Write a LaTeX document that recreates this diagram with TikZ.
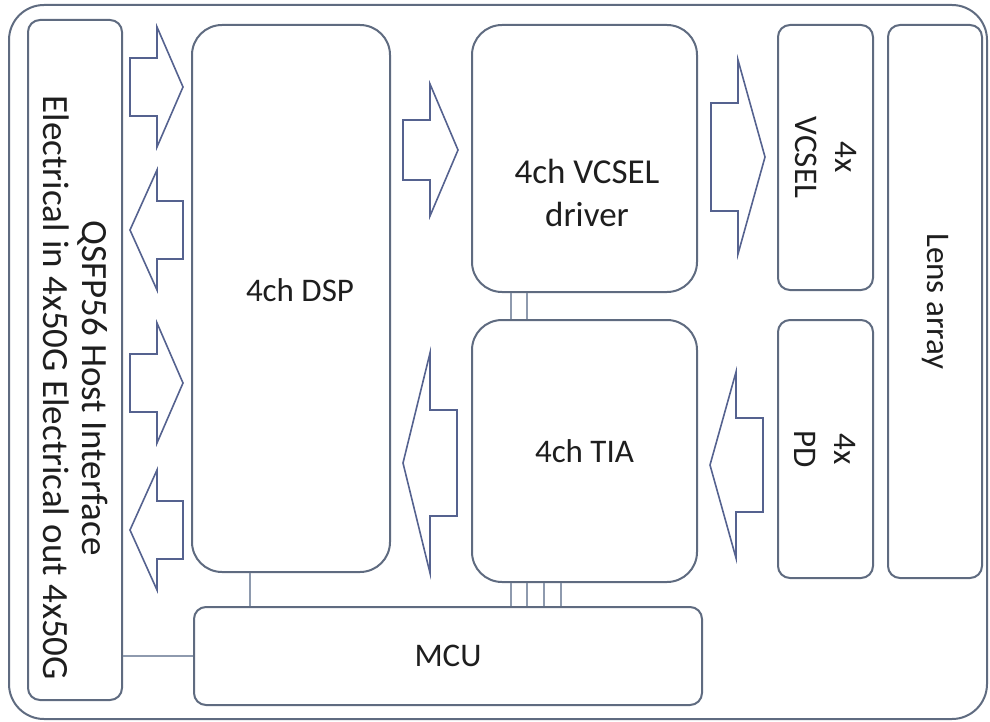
\documentclass[tikz,border=0pt]{standalone}
\usepackage{fontspec}
\setmainfont{Carlito}
\usepackage{xcolor}
\usepackage{tikz}
\definecolor{slateline}{HTML}{5F6B80}
\definecolor{arrowblue}{HTML}{55628F}
\definecolor{wiregray}{HTML}{8E9AAE}
\definecolor{inktext}{HTML}{1E1E1E}

\begin{document}
\begin{tikzpicture}[x=1pt, y=-1pt,
    box/.style={draw=slateline, line width=2pt, rounded corners=12pt, inner sep=0pt},
    bigbox/.style={box, rounded corners=30pt},
    wire/.style={wiregray, line width=1.2pt},
    fatarrow/.style={draw=arrowblue, line width=1.6pt, line join=miter},
    txt/.style={text=inktext, font=\fontsize{33}{40}\selectfont, align=center}]
      \useasboundingbox (0,0) rectangle (990,722);
      \draw[slateline, line width=2pt, rounded corners=35pt] (9,5) rectangle (987,719);
      % blocks
      \node[box, minimum width=94pt, minimum height=680pt] (host) at (75,360) {};
      \node[bigbox, minimum width=198pt, minimum height=547pt] (dsp) at (291,298.5) {};
      \node[bigbox, minimum width=225pt, minimum height=267pt] (drv) at (584.5,158.5) {};
      \node[bigbox, minimum width=225pt, minimum height=262pt] (tia) at (584.5,451) {};
      \node[box, minimum width=508pt, minimum height=98pt] (mcu) at (448,656) {};
      \node[box, minimum width=95pt, minimum height=265pt] (vcsel) at (825.5,157.5) {};
      \node[box, minimum width=95pt, minimum height=258pt] (pd) at (825.5,449) {};
      \node[box, minimum width=94pt, minimum height=553pt] (lens) at (935,301.5) {};
      % labels
      \node[txt, rotate=-90, font=\fontsize{37}{39}\selectfont] (hosttxt) at (76,388) {QSFP56 Host Interface\\Electrical in 4x50G Electrical out 4x50G};
      \node[txt] (dsptxt) at (300,290) {4ch DSP};
      \node[txt, font=\fontsize{35}{43}\selectfont] (drvtxt) at (587,193) {4ch VCSEL\\driver};
      \node[txt] (tiatxt) at (tia.center) {4ch TIA};
      \node[txt] (mcutxt) at (mcu.center) {MCU};
      \node[txt, rotate=-90] (vcseltxt) at (vcsel.center) {4x\\VCSEL};
      \node[txt, rotate=-90] (pdtxt) at (pd.center) {4x\\PD};
      \node[txt, rotate=-90] (lenstxt) at (lens.center) {Lens array};
      % block arrows: tail / head base / tip / centre / head half / shaft half
      \foreach \xa/\xb/\xc/\yc/\hh/\sh in {130/157/183/87/60/29, 183/157/130/230/60/29,
          130/157/183/383/60/29, 183/157/130/530/60/29, 403/430/458/150/66/30,
          457/430/403/463/110/53, 711/738/765/157/97/54, 763/736/710/465/93/47} {
        \draw[fatarrow] (\xa,\yc-\sh) -- (\xb,\yc-\sh) -- (\xb,\yc-\hh) -- (\xc,\yc)
          -- (\xb,\yc+\hh) -- (\xb,\yc+\sh) -- (\xa,\yc+\sh) -- cycle;
      }
      % wires
      \draw[wire] (host.east |- mcu.west) -- (mcu.west);
      \draw[wire] ([xshift=59pt]dsp.south west) -- ([xshift=59pt]dsp.south west |- mcu.north);
      \foreach \dx in {40,56} {
        \draw[wire] ([xshift=\dx pt]drv.south west) -- ([xshift=\dx pt]drv.south west |- tia.north);
      }
      \foreach \dx in {40,56,73,90} {
        \draw[wire] ([xshift=\dx pt]tia.south west) -- ([xshift=\dx pt]tia.south west |- mcu.north);
      }
\end{tikzpicture}
\end{document}
